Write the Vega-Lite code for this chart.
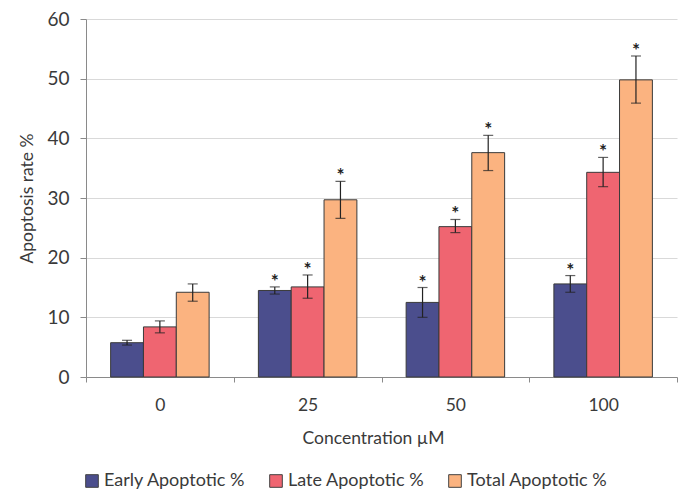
{
  "$schema": "https://vega.github.io/schema/vega-lite/v6.json",
  "width": 591,
  "height": 358,
  "autosize": {"type": "none"},
  "padding": {"left": 86, "top": 19, "right": 5, "bottom": 116},
  "background": "white",
  "config": {
    "font": "Lato",
    "view": {"stroke": null},
    "axis": {"labelColor": "#3a3a3a", "titleColor": "#3a3a3a", "titleFontWeight": "normal", "domainColor": "#8a8a8a", "tickColor": "#8a8a8a", "labelFontSize": 17.5, "titleFontSize": 17.5}
  },
  "data": {
    "values": [
      {"conc": "0", "type": "Early Apoptotic %", "value": 5.75, "lo": 5.35, "hi": 6.15, "star": ""},
      {"conc": "0", "type": "Late Apoptotic %", "value": 8.4, "lo": 7.4, "hi": 9.4, "star": ""},
      {"conc": "0", "type": "Total Apoptotic %", "value": 14.2, "lo": 12.7, "hi": 15.6, "star": ""},
      {"conc": "25", "type": "Early Apoptotic %", "value": 14.5, "lo": 13.9, "hi": 15.1, "star": "*"},
      {"conc": "25", "type": "Late Apoptotic %", "value": 15.1, "lo": 13.2, "hi": 17.1, "star": "*"},
      {"conc": "25", "type": "Total Apoptotic %", "value": 29.7, "lo": 26.6, "hi": 32.8, "star": "*"},
      {"conc": "50", "type": "Early Apoptotic %", "value": 12.5, "lo": 10.0, "hi": 15.0, "star": "*"},
      {"conc": "50", "type": "Late Apoptotic %", "value": 25.2, "lo": 24.2, "hi": 26.4, "star": "*"},
      {"conc": "50", "type": "Total Apoptotic %", "value": 37.6, "lo": 34.6, "hi": 40.5, "star": "*"},
      {"conc": "100", "type": "Early Apoptotic %", "value": 15.6, "lo": 14.2, "hi": 17.0, "star": "*"},
      {"conc": "100", "type": "Late Apoptotic %", "value": 34.3, "lo": 31.9, "hi": 36.8, "star": "*"},
      {"conc": "100", "type": "Total Apoptotic %", "value": 49.8, "lo": 45.9, "hi": 53.8, "star": "*"}
    ]
  },
  "encoding": {
    "x": {
      "field": "conc", "type": "ordinal", "sort": ["0", "25", "50", "100"],
      "scale": {"paddingInner": 0, "paddingOuter": 0},
      "axis": {"title": "Concentration µM", "labelAngle": 0, "tickBand": "extent", "tickSize": 5, "labelPadding": 14, "titlePadding": 16, "titleX": 287, "grid": false}
    },
    "xOffset": {
      "field": "type", "type": "nominal", "sort": ["Early Apoptotic %", "Late Apoptotic %", "Total Apoptotic %"],
      "scale": {"paddingInner": 0, "paddingOuter": 0.75}
    }
  },
  "layer": [
    {
      "mark": {"type": "bar", "stroke": "#3a3a3a", "strokeWidth": 1},
      "encoding": {
        "y": {
          "field": "value", "type": "quantitative",
          "scale": {"domain": [0, 60], "nice": false},
          "axis": {"title": "Apoptosis rate %", "values": [0, 10, 20, 30, 40, 50, 60], "grid": true, "gridColor": "#d9d9d9", "tickSize": 6, "labelPadding": 11, "titlePadding": 10, "labelFontSize": 19}
        },
        "color": {
          "field": "type", "type": "nominal",
          "scale": {"domain": ["Early Apoptotic %", "Late Apoptotic %", "Total Apoptotic %"], "range": ["#4b4e8d", "#ef6571", "#fbb380"]},
          "legend": {
            "title": null, "orient": "none", "direction": "horizontal", "legendX": -3, "legendY": 453,
            "symbolType": "square", "symbolSize": 160, "symbolStrokeColor": "#444444", "symbolStrokeWidth": 1, "symbolOpacity": 1,
            "labelFontSize": 18, "labelColor": "#3a3a3a", "columnPadding": 21, "labelOffset": 3
          }
        }
      }
    },
    {
      "mark": {"type": "rule", "color": "#222222", "strokeWidth": 1.2},
      "encoding": {"y": {"field": "lo", "type": "quantitative"}, "y2": {"field": "hi"}}
    },
    {
      "mark": {"type": "tick", "size": 10, "thickness": 1.2, "color": "#222222", "orient": "horizontal"},
      "encoding": {"y": {"field": "lo", "type": "quantitative"}}
    },
    {
      "mark": {"type": "tick", "size": 10, "thickness": 1.2, "color": "#222222", "orient": "horizontal"},
      "encoding": {"y": {"field": "hi", "type": "quantitative"}}
    },
    {
      "mark": {"type": "text", "fontSize": 19, "fontWeight": "bold", "color": "#222222", "baseline": "alphabetic", "dy": 1},
      "encoding": {"y": {"field": "hi", "type": "quantitative"}, "text": {"field": "star"}}
    }
  ]
}
